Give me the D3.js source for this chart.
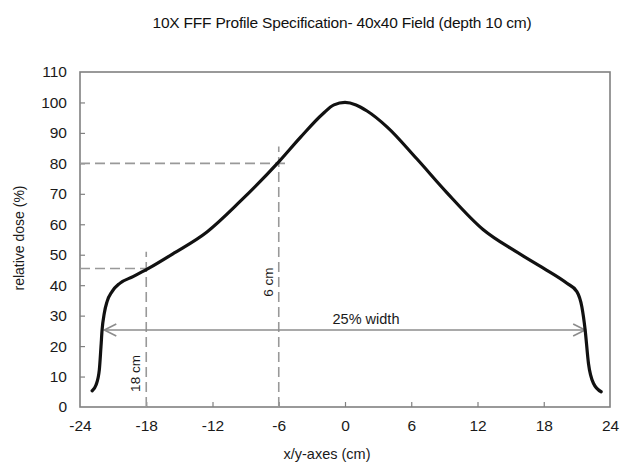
<!DOCTYPE html>
<html><head><meta charset="utf-8">
<script src="https://cdn.jsdelivr.net/npm/d3@7"></script>
<style>body{margin:0;background:#fff;}text{font-family:"Liberation Sans",Arial,sans-serif;}</style>
</head><body><svg id="c" width="629" height="465"></svg>
<script>
const profileX = [-22.9,-22.55,-22.25,-22.1,-22.0,-21.8,-21.55,-21.1,-20.4,-19.2,-17.8,-15.5,-12.5,-9.5,-6,-4,-2,-1,0,1,2,3.8,6.5,9.2,12.5,15.5,18,20.1,21.0,21.45,21.75,22.05,22.5,23.2];
const profileY = [5.3,7.2,12.2,19.8,25.3,30.8,34.6,37.9,40.6,42.8,45.5,50.5,57.5,67.5,80.5,88.7,96.3,99.2,100,99.2,97.2,92,81.5,70.5,58.3,51,45.5,40.6,37.9,32.9,25.3,14.3,7.8,5.0];
const xTicks = [-24,-18,-12,-6,0,6,12,18,24];
const yTicks = [0,10,20,30,40,50,60,70,80,90,100,110];
const widthArrow = [-21.8, 21.75];
const widthLevel = 25.3;
const marker6 = {x:-6, y:80};
const marker18 = {x:-18, y:45.5};

const svg = d3.select("#c");
const x = d3.scaleLinear().domain([-24,24]).range([80,610]);
const y = d3.scaleLinear().domain([0,110]).range([407,72]);
const axisColor = "#808080";
const txt = "#1a1a1a";

// title
svg.append("text").attr("x",342).attr("y",28).attr("text-anchor","middle")
  .attr("font-size",15.5).attr("fill","#111").attr("letter-spacing","-0.2")
  .text("10X FFF Profile Specification- 40x40 Field (depth 10 cm)");

// axes
const gx = svg.append("g").attr("transform","translate(0,407)")
  .call(d3.axisBottom(x).tickValues(xTicks).tickSize(-5).tickPadding(13).tickFormat(d=>String(d)));
const gy = svg.append("g").attr("transform","translate(80,0)")
  .call(d3.axisLeft(y).tickValues(yTicks).tickSize(-5).tickPadding(13).tickFormat(d=>String(d)));
[gx,gy].forEach(g=>{
  g.select(".domain").remove();
  g.selectAll(".tick line").attr("stroke",axisColor).attr("stroke-width",1.2);
  g.selectAll(".tick text").attr("font-size",15.5).attr("fill",txt).attr("font-family","Liberation Sans, Arial, sans-serif");
});
gx.selectAll(".tick").filter(d=>d===-24||d===24).select("line").remove();
gy.selectAll(".tick").filter(d=>d===0||d===110).select("line").remove();
// frame
svg.append("rect").attr("x",80).attr("y",72).attr("width",530).attr("height",335)
  .attr("fill","none").attr("stroke",axisColor).attr("stroke-width",1.6);

// axis titles
svg.append("text").attr("x",327).attr("y",459).attr("text-anchor","middle")
  .attr("font-size",14.5).attr("fill",txt).text("x/y-axes (cm)");
svg.append("text").attr("transform","translate(24,238) rotate(-90)").attr("text-anchor","middle")
  .attr("font-size",14).attr("fill",txt).text("relative dose (%)");

// dashed guides
const dashColor = "#999";
const dash = "10,5";
function guide(m, extend){
  svg.append("line").attr("x1",x(-24)).attr("x2",x(m.x+extend)).attr("y1",y(m.y)).attr("y2",y(m.y))
    .attr("stroke",dashColor).attr("stroke-width",1.6).attr("stroke-dasharray",dash);
  svg.append("line").attr("x1",x(m.x)).attr("x2",x(m.x)).attr("y1",y(0)).attr("y2",y(m.y+5.5))
    .attr("stroke",dashColor).attr("stroke-width",1.6).attr("stroke-dasharray",dash);
}
guide(marker6, 0.9);
guide(marker18, 0.8);

// 25% width arrow
const ag = svg.append("g").attr("stroke","#8c8c8c").attr("stroke-width",1.6).attr("fill","none");
ag.append("line").attr("x1",x(widthArrow[0])).attr("x2",x(widthArrow[1])).attr("y1",y(widthLevel)).attr("y2",y(widthLevel));
ag.append("path").attr("d",`M${x(widthArrow[0])+12},${y(widthLevel)-6}L${x(widthArrow[0])},${y(widthLevel)}L${x(widthArrow[0])+12},${y(widthLevel)+6}`);
ag.append("path").attr("d",`M${x(widthArrow[1])-12},${y(widthLevel)-6}L${x(widthArrow[1])},${y(widthLevel)}L${x(widthArrow[1])-12},${y(widthLevel)+6}`);
svg.append("text").attr("x",366).attr("y",y(widthLevel)-6).attr("text-anchor","middle")
  .attr("font-size",14.5).attr("fill",txt).text("25% width");

// rotated labels
svg.append("text").attr("transform",`translate(${x(-6)-6},${y(41)}) rotate(-90)`).attr("text-anchor","middle")
  .attr("font-size",13.5).attr("fill",txt).text("6 cm");
svg.append("text").attr("transform",`translate(${x(-18)-6},${y(11)}) rotate(-90)`).attr("text-anchor","middle")
  .attr("font-size",13.5).attr("fill",txt).text("18 cm");

// profile curve
const pts = profileX.map((d,i)=>[d,profileY[i]]);
svg.append("path").datum(pts)
  .attr("d",d3.line().x(d=>x(d[0])).y(d=>y(d[1])).curve(d3.curveMonotoneX))
  .attr("fill","none").attr("stroke","#111").attr("stroke-width",3.2).attr("stroke-linecap","round").attr("stroke-linejoin","round");
</script></body></html>
